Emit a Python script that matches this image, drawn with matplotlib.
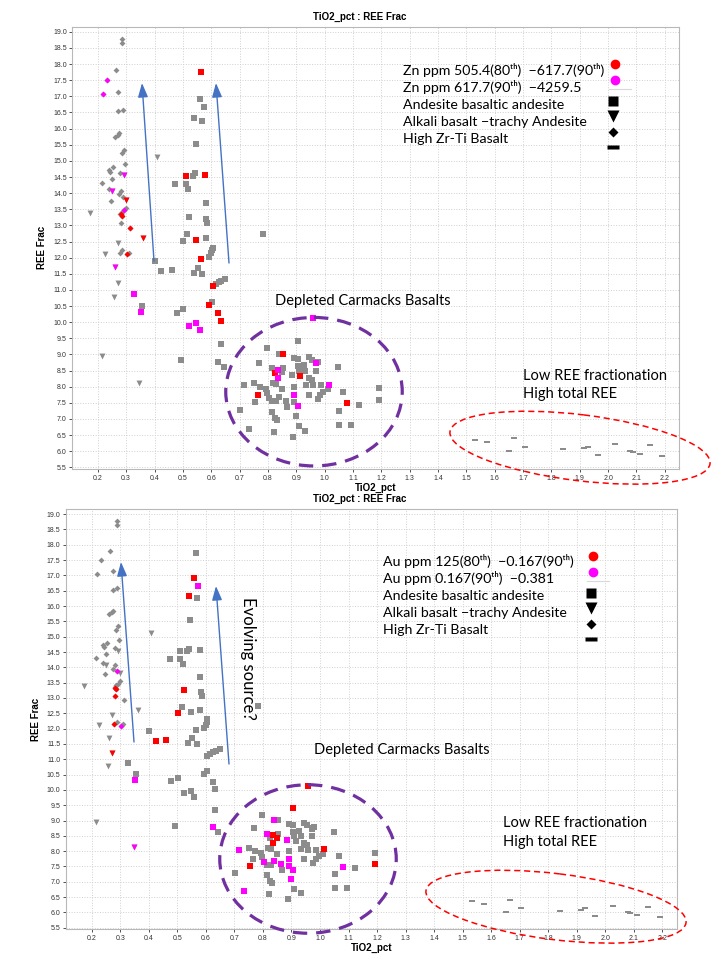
import matplotlib.pyplot as plt
import numpy as np
from matplotlib.patches import Ellipse
from matplotlib.path import Path

plt.rcParams["font.family"] = ["Liberation Sans", "DejaVu Sans"]

# ---- base samples (TiO2_pct, REE Frac) by rock type ----
zrti_basalt = [
    (0.287, 18.79), (0.287, 18.65), (0.265, 17.81), (0.232, 17.52), (0.219, 17.06),
    (0.273, 17.14), (0.273, 16.54), (0.288, 16.59), (0.275, 15.85), (0.271, 15.81),
    (0.260, 15.73), (0.292, 15.35), (0.286, 15.23), (0.295, 14.90), (0.255, 14.81),
    (0.239, 14.73), (0.244, 14.66), (0.280, 14.62), (0.249, 14.43), (0.216, 14.30),
    (0.238, 14.14), (0.282, 14.08), (0.275, 13.96), (0.245, 13.77), (0.288, 13.88),
    (0.298, 13.54), (0.293, 13.47), (0.284, 13.41), (0.280, 13.36), (0.281, 13.34),
    (0.286, 13.28), (0.282, 13.07), (0.312, 12.93), (0.279, 12.16), (0.287, 12.23),
    (0.304, 12.10), (0.310, 12.16),
]
alkali_basalt = [
    (0.173, 13.38), (0.408, 15.12), (0.291, 14.55), (0.249, 14.07), (0.300, 13.80),
    (0.361, 12.61), (0.272, 12.46), (0.227, 12.11), (0.261, 11.70), (0.272, 11.20),
    (0.258, 10.77), (0.214, 8.96), (0.347, 8.12),
]
andesite = [
    (0.564, 17.74), (0.560, 16.91), (0.573, 16.66), (0.541, 16.34), (0.569, 16.25),
    (0.546, 15.53), (0.511, 14.53), (0.579, 14.56), (0.542, 14.61), (0.535, 14.53),
    (0.474, 14.28), (0.511, 14.28), (0.519, 14.12), (0.581, 13.70), (0.522, 13.26),
    (0.582, 13.20), (0.585, 13.07), (0.516, 12.72), (0.548, 12.55), (0.581, 12.60),
    (0.501, 12.51), (0.784, 12.74), (0.605, 12.30), (0.402, 11.91), (0.424, 11.60),
    (0.460, 11.63), (0.538, 11.54), (0.553, 11.69), (0.569, 11.49), (0.564, 11.97),
    (0.592, 12.01), (0.604, 12.23), (0.601, 12.13), (0.605, 11.12), (0.616, 11.18),
    (0.626, 11.25), (0.635, 11.28), (0.649, 11.34), (0.604, 10.63), (0.594, 10.53),
    (0.328, 10.88), (0.355, 10.51), (0.353, 10.32), (0.478, 10.29), (0.501, 10.40),
    (0.522, 9.89), (0.548, 9.97), (0.560, 9.76), (0.625, 10.27), (0.633, 10.03),
    (0.633, 9.33), (0.492, 8.83), (0.624, 8.78), (0.644, 8.61),
    # depleted Carmacks cluster
    (0.959, 10.14), (0.906, 9.42), (0.796, 9.19), (0.840, 9.01), (0.854, 9.02),
    (0.769, 8.75), (0.893, 8.88), (0.905, 8.85), (0.945, 8.93), (0.955, 8.84),
    (0.971, 8.77), (0.978, 8.78), (0.971, 8.73), (0.815, 8.57), (0.852, 8.57),
    (0.849, 8.47), (0.836, 8.52), (0.824, 8.44), (0.905, 8.63), (0.926, 8.66),
    (0.932, 8.50), (0.971, 8.50), (0.909, 8.50), (1.048, 8.61), (0.885, 8.36),
    (0.915, 8.34), (0.835, 8.26), (0.944, 8.28), (0.955, 8.21), (0.716, 8.04),
    (0.751, 8.11), (0.772, 7.99), (0.792, 7.93), (0.818, 8.11), (0.827, 8.07),
    (0.851, 7.92), (0.892, 8.00), (0.935, 8.06), (0.958, 8.04), (0.987, 8.05),
    (1.015, 8.06), (1.012, 7.92), (0.995, 7.83), (0.985, 7.73), (0.976, 7.62),
    (1.192, 7.95), (1.192, 7.58), (1.065, 7.84), (0.766, 7.74), (0.798, 7.82),
    (0.804, 7.66), (0.813, 7.55), (0.829, 7.56), (0.839, 7.67), (0.892, 7.75),
    (0.945, 7.74), (0.756, 7.53), (0.864, 7.57), (0.866, 7.37), (0.892, 7.52),
    (0.906, 7.39), (1.079, 7.49), (1.121, 7.44), (1.051, 7.24), (0.701, 7.28),
    (0.816, 7.23), (0.825, 7.03), (0.831, 6.97), (0.900, 7.09), (0.733, 6.70),
    (0.908, 6.77), (0.932, 6.63), (0.821, 6.61), (1.052, 6.81), (1.094, 6.80),
    (0.888, 6.45),
]
high_ree = [
    (1.531, 6.36), (1.573, 6.29), (1.667, 6.42), (1.651, 6.02), (1.706, 6.14),
    (1.841, 6.06), (1.915, 6.09), (1.930, 6.13), (1.963, 5.89), (2.025, 6.21),
    (2.079, 6.02), (2.087, 5.99), (2.111, 5.91), (2.149, 6.18), (2.191, 5.85),
]

# ---- highlighted samples, Zn panel ----
zn_hi_zrti = [(0.281, 13.34), (0.286, 13.28), (0.312, 12.93), (0.304, 12.10)]
zn_top_zrti = [(0.232, 17.52), (0.219, 17.06), (0.293, 13.47)]
zn_hi_alkali = [(0.300, 13.80), (0.361, 12.61)]
zn_top_alkali = [(0.291, 14.55), (0.249, 14.07), (0.261, 11.70)]
zn_hi_andesite = [
    (0.564, 17.74), (0.511, 14.53), (0.579, 14.56), (0.548, 12.55), (0.564, 11.97),
    (0.605, 11.12), (0.594, 10.53), (0.625, 10.27), (0.633, 10.03), (0.854, 9.02),
    (0.915, 8.34), (0.766, 7.74), (1.079, 7.49), (0.824, 8.44),
]
zn_top_andesite = [
    (0.328, 10.88), (0.353, 10.32), (0.522, 9.89), (0.548, 9.97), (0.560, 9.76),
    (0.959, 10.14), (0.836, 8.52), (0.835, 8.26), (0.971, 8.73), (1.015, 8.06),
    (0.892, 7.75), (0.906, 7.39),
]

# ---- highlighted samples, Au panel ----
au_hi_zrti = [(0.281, 13.34), (0.286, 13.28), (0.282, 13.07), (0.279, 12.16)]
au_top_zrti = [(0.288, 13.88), (0.304, 12.10)]
au_hi_alkali = [(0.272, 11.20)]
au_top_alkali = [(0.347, 8.12)]
au_hi_andesite = [
    (0.560, 16.91), (0.541, 16.34), (0.522, 13.26), (0.501, 12.51), (0.424, 11.60),
    (0.460, 11.63), (0.959, 10.14), (0.906, 9.42), (0.836, 8.52), (0.849, 8.44),
    (0.835, 8.26), (1.015, 8.06), (0.756, 7.53), (1.192, 7.58),
]
au_top_andesite = [
    (0.573, 16.66), (0.353, 10.32), (0.624, 8.78), (0.840, 9.01), (0.815, 8.57),
    (0.885, 8.36), (0.716, 8.04), (0.804, 7.66), (0.839, 7.67), (0.864, 7.57),
    (0.892, 7.75), (0.892, 7.52), (0.906, 7.39), (1.079, 7.49), (0.900, 7.09),
    (0.733, 6.70),
]

zn_labels = ["Zn ppm 505.4(80\u1d57\u02b0)  \u2212617.7(90\u1d57\u02b0)",
             "Zn ppm 617.7(90\u1d57\u02b0)  \u22124259.5"]
au_labels = ["Au ppm 125(80\u1d57\u02b0)  \u22120.167(90\u1d57\u02b0)",
             "Au ppm 0.167(90\u1d57\u02b0)  \u22120.381"]
type_labels = ["Andesite basaltic andesite", "Alkali basalt \u2212trachy Andesite",
               "High Zr-Ti Basalt"]

GRAY = "#8c8c8c"
RED = "#ff0000"
MAGENTA = "#ff00ff"
DASH = Path([(-1, -0.3), (1, -0.3), (1, 0.3), (-1, 0.3), (-1, -0.3)])
NOTE_FONT = ["Lato", "DejaVu Sans"]


def scat(ax, pts, marker, size, color):
    a = np.array(pts)
    ax.scatter(a[:, 0], a[:, 1], marker=marker, s=size, color=color, linewidths=0, zorder=3)


def panel(ax, hi, top):
    scat(ax, andesite, "s", 16, GRAY)
    scat(ax, alkali_basalt, "v", 18, GRAY)
    scat(ax, zrti_basalt, "D", 9, GRAY)
    scat(ax, high_ree, DASH, 16, GRAY)
    for pts, mk, sz in zip(hi, ["D", "v", "s"], [9, 18, 16]):
        scat(ax, pts, mk, sz, RED)
    for pts, mk, sz in zip(top, ["D", "v", "s"], [9, 18, 16]):
        scat(ax, pts, mk, sz, MAGENTA)
    ax.set_xlim(0.11, 2.25)
    ax.set_ylim(5.45, 19.16)
    ax.set_xticks(np.arange(0.2, 2.21, 0.1))
    ax.set_yticks(np.arange(5.5, 19.01, 0.5))
    ax.xaxis.set_major_formatter(plt.FormatStrFormatter("%.1f"))
    ax.yaxis.set_major_formatter(plt.FormatStrFormatter("%.1f"))
    ax.tick_params(labelsize=5, colors="#333333", length=2, width=0.6, pad=2)
    ax.grid(True, linestyle=":", color="#d0d0d0", linewidth=0.7)
    ax.set_axisbelow(True)
    for s in ax.spines.values():
        s.set_color("#b8b8b8")
        s.set_linewidth(0.8)
    ax.set_xlabel("TiO2_pct", fontsize=7, fontweight="bold", labelpad=1)
    ax.set_ylabel("REE Frac", fontsize=7, fontweight="bold", labelpad=4)


fig = plt.figure(figsize=(7.2, 9.6), dpi=100)
ax1 = fig.add_axes([0.1004, 0.5115, 0.8426, 0.4607])
ax2 = fig.add_axes([0.0917, 0.0320, 0.8482, 0.4375])
panel(ax1, [zn_hi_zrti, zn_hi_alkali, zn_hi_andesite],
      [zn_top_zrti, zn_top_alkali, zn_top_andesite])
panel(ax2, [au_hi_zrti, au_hi_alkali, au_hi_andesite],
      [au_top_zrti, au_top_alkali, au_top_andesite])

# overlay in pixel coordinates for the hand-drawn notes
ov = fig.add_axes([0, 0, 1, 1], zorder=10)
ov.set_xlim(0, 720)
ov.set_ylim(960, 0)
ov.axis("off")
ov.patch.set_alpha(0)

for ty in [17.3, 498.5]:
    ov.text(360, ty, "TiO2_pct : REE Frac", fontsize=7, fontweight="bold",
            ha="center", va="center")

arrow = dict(arrowstyle="-|>,head_length=0.85,head_width=0.3", color="#4472c4",
             lw=1.0, mutation_scale=10, shrinkA=0, shrinkB=0)
for tail, tip in [((154, 261), (142, 83)), ((229, 263), (216, 83)),
                  ((134, 742), (121, 562)), ((229, 764), (216, 586))]:
    ov.annotate("", xy=tip, xytext=tail, arrowprops=arrow)

for cx, cy in [(314, 391.7), (308, 859)]:
    ov.add_patch(Ellipse((cx, cy), 176.5, 148.5, fill=False, edgecolor="#7030a0",
                         lw=2.3, linestyle=(0, (4.5, 2.8))))
for cx, cy in [(580, 447.7), (556, 906.7)]:
    ov.add_patch(Ellipse((cx, cy), 262, 66, angle=7, fill=False, edgecolor=RED,
                         lw=1.1, linestyle=(0, (4, 2.5))))

note = dict(fontsize=10.5, family=NOTE_FONT, va="center", ha="left")
ov.text(275, 301, "Depleted Carmacks Basalts", **note)
ov.text(314, 750, "Depleted Carmacks Basalts", **note)
ov.text(523, 375.7, "Low REE fractionation", **note)
ov.text(523, 394.3, "High total REE", **note)
ov.text(503, 823.3, "Low REE fractionation", **note)
ov.text(503, 842.3, "High total REE", **note)
ov.text(248, 658, "Evolving source?", fontsize=12, family=NOTE_FONT, rotation=270,
        ha="center", va="center")


def key(x0, y0, mx, my, labels):
    rows = labels + type_labels
    for i, lab in enumerate(rows):
        ov.text(x0, y0 + i * 17.3, lab, fontsize=10.2, family=NOTE_FONT,
                va="center", ha="left")
    ov.plot(mx, my, "o", ms=7, color=RED, mec="none")
    ov.plot(mx, my + 16, "o", ms=7, color=MAGENTA, mec="none")
    ov.plot([mx - 6, mx + 16], [my + 25, my + 25], color="#d9d9d9", lw=0.8)
    ov.plot(mx - 2, my + 36.5, "s", ms=7.5, color="black", mec="none")
    ov.plot(mx - 2, my + 52, "v", ms=8, color="black", mec="none")
    ov.plot(mx - 2, my + 68, "D", ms=5.5, color="black", mec="none")
    ov.plot(mx - 2, my + 83, marker=DASH, ms=8, color="black", mec="none", ls="none")


key(402.7, 70, 615.3, 64.3, zn_labels)
key(383.3, 561, 592.7, 556, au_labels)

fig.savefig("out.png", dpi=100, facecolor="white")
